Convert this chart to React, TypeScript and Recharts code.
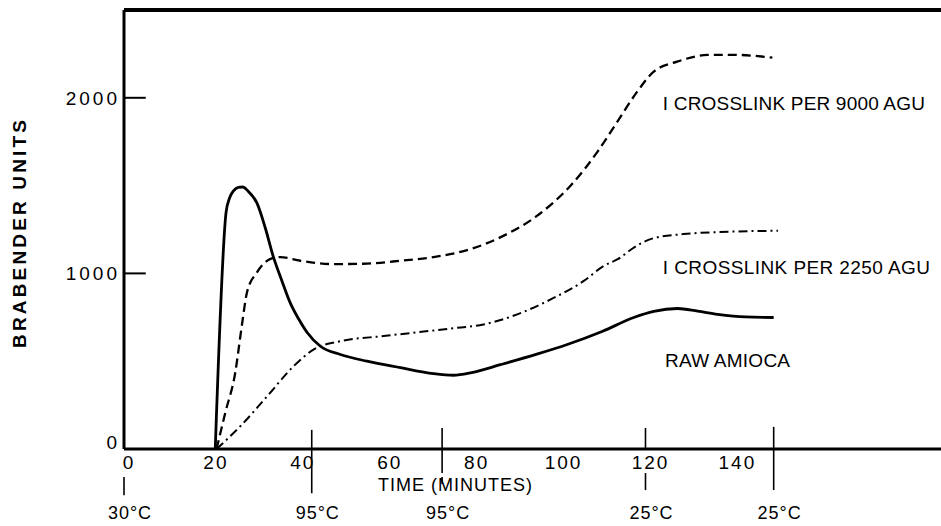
import React from 'react';
import { LineChart, Line, XAxis, YAxis, ReferenceLine, ReferenceDot } from 'recharts';

// ---- data (time in minutes, viscosity in Brabender units) ----
const minuteTicks = [0, 20, 40, 60, 80, 100, 120, 140];
const unitTicks = [0, 1000, 2000];
const tempTicks = [0, 43.2, 73.2, 120, 149.5];
const tempLabels = ['30°C', '95°C', '95°C', '25°C', '25°C'];

const rawTime = [21, 23.5, 24.3, 25.2, 26.3, 27.3, 28.5, 30.6, 32.5, 34.3, 36.3, 38.2, 40.2, 42.1, 45.2, 49.8, 55.9, 63.6, 71.2, 75.8, 80, 86.6, 95, 102, 110, 117.3, 121.9, 127.4, 132, 136.6, 143, 149.5];
const rawValue = [0, 1350, 1430, 1470, 1490, 1492, 1470, 1400, 1260, 1100, 960, 835, 740, 665, 585, 538, 500, 463, 429, 420, 435, 480, 540, 595, 669, 749, 784, 800, 785, 767, 752, 749];

const x9000Time = [21.3, 23.3, 25.6, 27.1, 28.3, 30.6, 33.6, 35.9, 40.6, 48.2, 55, 63.6, 71.2, 79.7, 87.4, 95.1, 102.8, 108.9, 113.5, 118.1, 121.9, 127.3, 134.3, 140, 149.2];
const x9000Value = [0, 206, 435, 700, 892, 1006, 1081, 1093, 1072, 1053, 1055, 1072, 1093, 1138, 1215, 1329, 1501, 1691, 1863, 2035, 2149, 2206, 2244, 2245, 2229];

const x2250Time = [21.3, 26.7, 32.9, 39, 43.6, 49.8, 59.7, 75.1, 82.7, 90.5, 98.2, 105.8, 110.4, 113.6, 117.5, 121.5, 128.8, 136.6, 150.5];
const x2250Value = [0, 128, 299, 471, 566, 614, 643, 686, 709, 767, 852, 957, 1043, 1081, 1150, 1198, 1224, 1235, 1243];

// temperature marker lines: time, top value, bottom value
const markerTime = [0, 43.2, 73.2, 73.2, 120, 120, 149.5];
const markerTop = [-160, 109, 120, -160, 120, -137, 126];
const markerBottom = [-263, -252, -137, -200, 0, -234, -234];

// inward unit tick length, in minutes
const unitTickLength = 5;

const noteText = ['I CROSSLINK PER 9000 AGU', 'I CROSSLINK PER 2250 AGU', 'RAW AMIOCA'];
const noteTime = [124, 124, 124.5];
const noteValue = [1970, 1036, 507];
const noteWidth = [262, 267, 125];

const zip = (ts: number[], vs: number[]) => ts.map((t, i) => ({ t, v: vs[i] }));
const rawData = zip(rawTime, rawValue);
const data9000 = zip(x9000Time, x9000Value);
const data2250 = zip(x2250Time, x2250Value);

const FONT = '"Liberation Sans", Arial, sans-serif';

const MinuteTick = (props: any) => {
  const { x, y, payload } = props;
  return (
    <text x={x + 5} y={y + 20} textAnchor="middle" fontFamily={FONT} fontSize={19} letterSpacing={2} fill="#000">
      {payload.value}
    </text>
  );
};

const TempTick = (props: any) => {
  const { x, y, index } = props;
  return (
    <text x={x + 6} y={y + 40} textAnchor="middle" fontFamily={FONT} fontSize={18} letterSpacing={1} fill="#000">
      {tempLabels[index]}
    </text>
  );
};

const UnitTick = (props: any) => {
  const { x, y, payload } = props;
  const dy = payload.value === 0 ? 0 : 7;
  return (
    <text x={x - 4} y={y + dy} textAnchor="end" fontFamily={FONT} fontSize={19} letterSpacing={3} fill="#000">
      {payload.value}
    </text>
  );
};

const TimeLabel = (props: any) => {
  const vb = props.viewBox || { x: 124, y: 449 };
  return (
    <text x={vb.x + 331} y={vb.y + 42} textAnchor="middle" fontFamily={FONT} fontSize={18} textLength={154} lengthAdjust="spacing" fill="#000">
      TIME (MINUTES)
    </text>
  );
};

const UnitsLabel = () => (
  <text x={19} y={234} transform="rotate(-90, 19, 234)" textAnchor="middle" dominantBaseline="central" fontFamily={FONT} fontWeight="bold" fontSize={19} textLength={228} lengthAdjust="spacing" fill="#000">
    BRABENDER UNITS
  </text>
);

export default function App() {
  return (
    <div style={{ position: 'absolute', left: 0, top: 0, width: 941, height: 526, background: '#fff' }}>
      <LineChart width={941} height={526} margin={{ top: 10, right: 0, left: 110, bottom: 0 }}>
        <XAxis
          xAxisId="min"
          type="number"
          dataKey="t"
          domain={[0, 188]}
          ticks={minuteTicks}
          interval={0}
          height={30}
          tickSize={0}
          tickMargin={0}
          tickLine={false}
          axisLine={{ stroke: '#000', strokeWidth: 3 }}
          tick={<MinuteTick />}
          label={{ content: <TimeLabel /> }}
          allowDataOverflow
        />
        <XAxis
          xAxisId="temp"
          type="number"
          dataKey="t"
          domain={[0, 188]}
          ticks={tempTicks}
          interval={0}
          height={47}
          tickSize={0}
          tickMargin={0}
          tickLine={false}
          axisLine={false}
          tick={<TempTick />}
          allowDataOverflow
        />
        <YAxis
          yAxisId="u"
          type="number"
          dataKey="v"
          domain={[0, 2500]}
          ticks={unitTicks}
          interval={0}
          width={14}
          tickSize={0}
          tickMargin={0}
          tickLine={false}
          axisLine={{ stroke: '#000', strokeWidth: 3 }}
          tick={<UnitTick />}
          label={{ content: <UnitsLabel /> }}
          allowDataOverflow
        />
        <ReferenceLine xAxisId="min" yAxisId="u" y={2500} stroke="#000" strokeWidth={4} ifOverflow="visible" />
        {unitTicks.map((v) => (
          <ReferenceLine
            key={'u' + v}
            xAxisId="min"
            yAxisId="u"
            segment={[{ x: 0, y: v }, { x: unitTickLength, y: v }]}
            stroke="#000"
            strokeWidth={2}
            ifOverflow="visible"
          />
        ))}
        {markerTime.map((t, i) => (
          <ReferenceLine
            key={'m' + i}
            xAxisId="min"
            yAxisId="u"
            segment={[{ x: t, y: markerTop[i] }, { x: t, y: markerBottom[i] }]}
            stroke="#000"
            strokeWidth={1.6}
            ifOverflow="visible"
          />
        ))}
        <Line xAxisId="min" yAxisId="u" data={rawData} dataKey="v" type="monotone" stroke="#000" strokeWidth={2.8} dot={false} activeDot={false} isAnimationActive={false} />
        <Line xAxisId="min" yAxisId="u" data={data9000} dataKey="v" type="monotone" stroke="#000" strokeWidth={2.3} strokeDasharray="9 5" dot={false} activeDot={false} isAnimationActive={false} />
        <Line xAxisId="min" yAxisId="u" data={data2250} dataKey="v" type="monotone" stroke="#000" strokeWidth={2} strokeDasharray="9 4 2 4" dot={false} activeDot={false} isAnimationActive={false} />
        {noteText.map((s, i) => (
          <ReferenceDot
            key={'n' + i}
            xAxisId="min"
            yAxisId="u"
            x={noteTime[i]}
            y={noteValue[i]}
            r={0}
            fill="none"
            stroke="none"
            ifOverflow="visible"
            label={{
              content: (p: any) => {
                const vb = p.viewBox || { x: 0, y: 0 };
                return (
                  <text x={vb.x} y={vb.y + 7} textAnchor="start" fontFamily={FONT} fontSize={19} textLength={noteWidth[i]} lengthAdjust="spacing" fill="#000">
                    {s}
                  </text>
                );
              },
            }}
          />
        ))}
      </LineChart>
    </div>
  );
}
